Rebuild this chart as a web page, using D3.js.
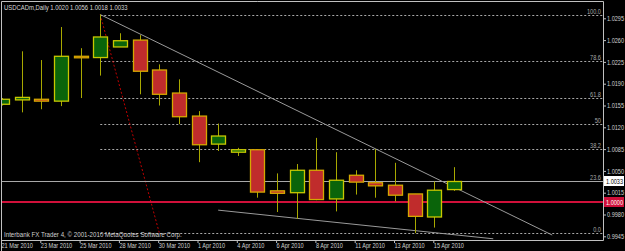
<!DOCTYPE html>
<html>
<head>
<meta charset="utf-8">
<script src="https://cdn.jsdelivr.net/npm/d3@7"></script>
<style>
    html, body { margin: 0; padding: 0; background: #000; }
    svg { display: block; }
    text { font-family: "Liberation Sans", Arial, sans-serif; font-size: 7px; }
</style>
</head>
<body>
<svg width="625" height="251"></svg>
<script>
// daily bars, USDCADm
var dates = ["21 Mar 2010", "22 Mar 2010", "23 Mar 2010", "24 Mar 2010", "25 Mar 2010", "26 Mar 2010",
    "28 Mar 2010", "29 Mar 2010", "30 Mar 2010", "31 Mar 2010", "1 Apr 2010", "2 Apr 2010",
    "4 Apr 2010", "5 Apr 2010", "6 Apr 2010", "7 Apr 2010", "8 Apr 2010", "9 Apr 2010",
    "11 Apr 2010", "12 Apr 2010", "13 Apr 2010", "14 Apr 2010", "15 Apr 2010", "16 Apr 2010"];
var barOpen  = [1.0157, 1.0164, 1.0165, 1.0162, 1.0234, 1.0232, 1.0249, 1.0260, 1.0212, 1.0175, 1.0138, 1.0093,
                1.0080, 1.0084, 1.0018, 1.0015, 1.0051, 1.0005, 1.0043, 1.0031, 1.0027, 1.0013, 0.9976, 1.0020];
var barHigh  = [1.0167, 1.0242, 1.0228, 1.0281, 1.0247, 1.0301, 1.0271, 1.0268, 1.0221, 1.0197, 1.0146, 1.0126,
                1.0087, 1.0085, 1.0046, 1.0061, 1.0103, 1.0080, 1.0051, 1.0085, 1.0063, 1.0013, 1.0033, 1.0056];
var barLow   = [1.0155, 1.0144, 1.0149, 1.0154, 1.0167, 1.0203, 1.0249, 1.0173, 1.0155, 1.0125, 1.0064, 1.0082,
                1.0074, 1.0007, 0.9984, 0.9973, 1.0003, 0.9985, 1.0012, 1.0007, 1.0001, 0.9950, 0.9959, 1.0018];
var barClose = [1.0165, 1.0168, 1.0162, 1.0234, 1.0232, 1.0265, 1.0259, 1.0210, 1.0173, 1.0137, 1.0092, 1.0106,
                1.0084, 1.0016, 1.0014, 1.0051, 1.0004, 1.0035, 1.0032, 1.0026, 1.0011, 0.9977, 1.0019, 1.0033];

var priceTicks = [1.0295, 1.0260, 1.0225, 1.0190, 1.0155, 1.0120, 1.0085, 1.0050, 1.0015, 0.9980, 0.9945];
var dateTicks = [0, 2, 4, 6, 8, 10, 12, 14, 16, 18, 20, 22];

// fibo retracement, drawn from bar 5 high to bar 8
var fibLevels = [0, 23.6, 38.2, 50, 61.8, 78.6, 100];
var fibHigh = 1.0301, fibLow = 0.9951, fibFrom = 5, fibTo = 8;

// trendlines [bar, price, bar, price]
var trendLines = [[5, 1.0301, 28, 0.9947], [11, 0.9987, 25, 0.9941]];
var bidPrice = 1.0033;
var hLine = 1.0000;

var svg = d3.select("svg"),
    plotLeft = 2, plotRight = 603, plotTop = 2, plotBottom = 240;

var x = d3.scaleLinear().domain([0, 30]).range([2, 2 + 19.65 * 30]);
var y = d3.scaleLinear().domain([0.9945, 1.0295]).range([236.3, 18.3]);

svg.append("defs").append("clipPath").attr("id", "plot")
    .append("rect").attr("x", plotLeft).attr("y", plotTop)
    .attr("width", plotRight - plotLeft).attr("height", plotBottom - plotTop);

// frame
svg.append("path")
    .attr("d", "M1.5,251 V1.5 H603.5 V240.5 H1.5")
    .attr("fill", "none").attr("stroke", "#c0c0c0").attr("stroke-width", 1);

var g = svg.append("g").attr("clip-path", "url(#plot)");

// fibo levels
var fibPrice = function (l) { return fibLow + (fibHigh - fibLow) * l / 100; };
g.selectAll(".fib")
    .data(fibLevels)
    .enter().append("line")
    .attr("x1", x(fibFrom)).attr("x2", plotRight)
    .attr("y1", function (d) { return Math.round(y(fibPrice(d))) + 0.5; })
    .attr("y2", function (d) { return Math.round(y(fibPrice(d))) + 0.5; })
    .attr("stroke", "#a8a8a8").attr("stroke-dasharray", "2,2");

svg.selectAll(".fibLabel")
    .data(fibLevels)
    .enter().append("text")
    .attr("class", "squeeze")
    .attr("x", 601).attr("y", function (d) { return Math.round(y(fibPrice(d))) - 1; })
    .attr("text-anchor", "end").attr("fill", "#a8a8a8")
    .text(function (d) { return d === 50 ? "50" : d3.format(".1f")(d); });

// fibo base line
g.append("line")
    .attr("x1", x(fibFrom)).attr("y1", y(fibHigh))
    .attr("x2", x(fibTo)).attr("y2", y(fibLow))
    .attr("stroke", "#c00000").attr("stroke-dasharray", "2,2");

// bid line and horizontal line
g.append("line")
    .attr("x1", plotLeft).attr("x2", plotRight)
    .attr("y1", Math.round(y(bidPrice)) + 0.5).attr("y2", Math.round(y(bidPrice)) + 0.5)
    .attr("stroke", "#a8a8a8");
g.append("line")
    .attr("x1", plotLeft).attr("x2", plotRight)
    .attr("y1", y(hLine)).attr("y2", y(hLine))
    .attr("stroke", "#d0103a").attr("stroke-width", 2);

// trendlines
g.selectAll(".trend")
    .data(trendLines)
    .enter().append("line")
    .attr("x1", function (d) { return x(d[0]); })
    .attr("y1", function (d) { return y(d[1]); })
    .attr("x2", function (d) { return x(d[2]); })
    .attr("y2", function (d) { return y(d[3]); })
    .attr("stroke", "#9a9a9a");

// candles
var bars = d3.range(dates.length);
var bw = 14;
g.selectAll(".wick")
    .data(bars)
    .enter().append("line")
    .attr("x1", function (i) { return Math.round(x(i)) + 0.5; })
    .attr("x2", function (i) { return Math.round(x(i)) + 0.5; })
    .attr("y1", function (i) { return y(barHigh[i]); })
    .attr("y2", function (i) { return y(barLow[i]); })
    .attr("stroke", "#a8a800");

g.selectAll(".body")
    .data(bars)
    .enter().append("rect")
    .attr("x", function (i) { return Math.round(x(i)) - bw / 2 + 0.5; })
    .attr("width", bw)
    .attr("y", function (i) { return y(Math.max(barOpen[i], barClose[i])); })
    .attr("height", function (i) { return Math.max(1.5, Math.abs(y(barOpen[i]) - y(barClose[i]))); })
    .attr("fill", function (i) { return barClose[i] >= barOpen[i] ? "#0a640a" : "#c02c2c"; })
    .attr("stroke", function (i) { return barClose[i] >= barOpen[i] ? "#c8c800" : "#d4a800"; })
    .attr("stroke-width", 1.3);

// price axis
var yAxis = svg.append("g")
    .attr("transform", "translate(603,0)")
    .call(d3.axisRight(y).tickValues(priceTicks).tickSize(3).tickPadding(1).tickFormat(d3.format(".4f")));
yAxis.select(".domain").remove();
yAxis.selectAll("line").attr("stroke", "#c0c0c0");
yAxis.selectAll("text").attr("class", "squeeze")
    .attr("fill", "#d0d0d0").attr("font-size", null).attr("font-family", null);

// price boxes
var boxes = [{ p: bidPrice, bg: "#ffffff", fg: "#000000" }, { p: hLine, bg: "#d0103a", fg: "#ffffff" }];
var box = svg.selectAll(".box").data(boxes).enter().append("g")
    .attr("transform", function (d) { return "translate(604," + Math.round(y(d.p)) + ")"; });
box.append("rect").attr("x", 0).attr("y", -5).attr("width", 20).attr("height", 10)
    .attr("fill", function (d) { return d.bg; });
box.append("text").attr("class", "squeeze").attr("x", 2).attr("y", 2.5).attr("fill", function (d) { return d.fg; })
    .text(function (d) { return d3.format(".4f")(d.p); });

// date axis
var xAxis = svg.append("g")
    .attr("transform", "translate(0,240)")
    .call(d3.axisBottom(x).tickValues(dateTicks).tickSize(3).tickFormat(function (i) { return dates[i]; }));
xAxis.select(".domain").remove();
xAxis.selectAll("line").attr("stroke", "#c0c0c0").attr("transform", "translate(-1,0)");
xAxis.selectAll("text").attr("class", "squeeze")
    .attr("fill", "#d0d0d0").attr("font-size", null).attr("font-family", null)
    .attr("text-anchor", "start").attr("x", -1).attr("y", 3).attr("dy", "0.71em");

// titles
svg.append("text").attr("class", "title").attr("x", 4).attr("y", 10).attr("fill", "#d8d8d8")
    .text("USDCADm,Daily  " + [barOpen[23], barHigh[23], barLow[23], barClose[23]].map(d3.format(".4f")).join(" "));
svg.append("text").attr("class", "title").attr("x", 4).attr("y", 237).attr("fill", "#d0d0d0")
    .text("Interbank FX Trader 4, \u00a9 2001-2010 MetaQuotes Software Corp.");

// terminal font is narrow: scale labels horizontally around their anchor
function squeeze(sel, k) {
    sel.each(function () {
        var ax = +d3.select(this).attr("x") || 0;
        d3.select(this).attr("transform", "translate(" + ax + ",0) scale(" + k + ",1) translate(" + (-ax) + ",0)");
    });
}
squeeze(svg.selectAll("text.squeeze"), 0.8);
svg.selectAll("text.title").each(function (d, i) {
    var target = i === 0 ? 124 : 178;
    squeeze(d3.select(this), target / this.getComputedTextLength());
});
</script>
</body>
</html>
